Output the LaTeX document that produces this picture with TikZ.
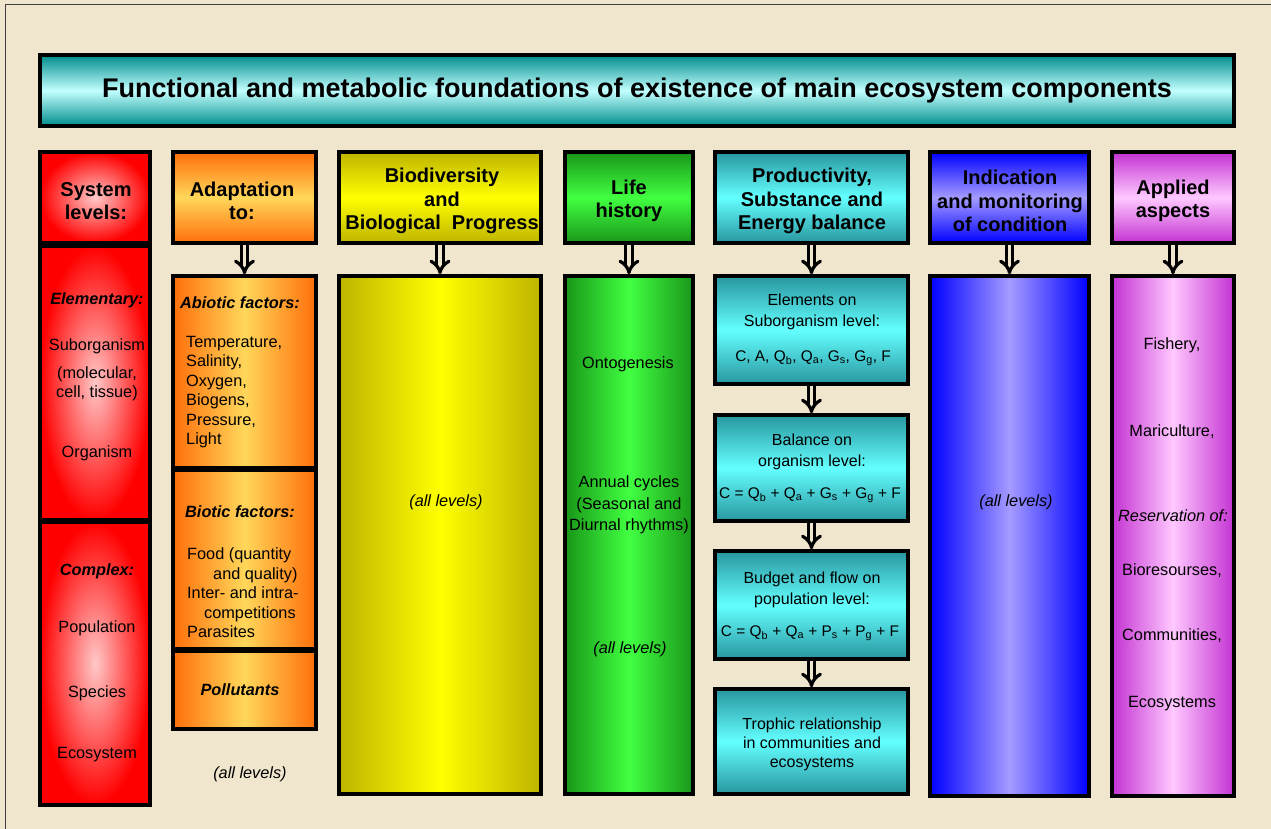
\documentclass[tikz,border=0pt]{standalone}
\usepackage{fontspec}
\setmainfont{Liberation Sans}
\usetikzlibrary{arrows.meta}
\definecolor{bg}{RGB}{240,230,205}
\definecolor{titleE}{RGB}{0,140,140}
\definecolor{titleC}{RGB}{195,255,255}
\definecolor{redE}{RGB}{255,0,0}
\definecolor{redC}{RGB}{255,200,200}
\definecolor{orE}{RGB}{255,110,10}
\definecolor{orC}{RGB}{255,215,90}
\definecolor{yeE}{RGB}{190,180,0}
\definecolor{yeC}{RGB}{255,255,0}
\definecolor{grE}{RGB}{25,150,25}
\definecolor{grC}{RGB}{65,255,65}
\definecolor{cyE}{RGB}{40,150,160}
\definecolor{cyC}{RGB}{100,255,255}
\definecolor{blE}{RGB}{0,0,255}
\definecolor{blC}{RGB}{165,155,255}
\definecolor{maE}{RGB}{195,50,210}
\definecolor{maC}{RGB}{255,200,255}
\tikzset{
  box/.style={draw=black, line width=3.5pt, rectangle, inner sep=0pt},
  vgrad/.style 2 args={top color=#1, bottom color=#1, middle color=#2},
  hgrad/.style 2 args={left color=#1, right color=#1, middle color=#2},
  rgrad/.style 2 args={shading=radial, inner color=#2, outer color=#1},
  hdrtext/.style={font=\fontsize{20}{23.5}\selectfont\bfseries, align=center, inner sep=0pt},
  bodytext/.style={font=\fontsize{16.3}{19.5}\selectfont, align=center, inner sep=0pt},
  bitext/.style={font=\fontsize{16.3}{19.5}\selectfont\bfseries\itshape, inner sep=0pt},
  ittext/.style={font=\fontsize{16.3}{19.5}\selectfont\itshape, inner sep=0pt},
  cytext/.style={font=\fontsize{16}{20.5}\selectfont, align=center, inner sep=0pt},
  eqtext/.style={font=\fontsize{15.4}{20}\selectfont, inner sep=0pt},
  dblarrow/.style={line width=3.2pt, double=bg, double distance=3.5pt, -{Implies}},
}
\begin{document}
\begin{tikzpicture}[x=1pt,y=-1pt]
\useasboundingbox (0,0) rectangle (1271,829);
\fill[bg] (0,0) rectangle (1271,829);
\draw[black!75, line width=1pt] (5,829) -- (5,5) -- (1271,5);

% title
\node[box, vgrad={titleE}{titleC}, minimum width=1194pt, minimum height=71pt] (title) at (637,90.5) {};
\node[font=\fontsize{27}{30}\selectfont\bfseries, inner sep=0pt] (titletext) at (637,91) {Functional and metabolic foundations of existence of main ecosystem components};

% headers
\node[box, rgrad={redE}{redC}, minimum width=110pt, minimum height=91pt] (h1) at (95,197.5) {};
\node[box, vgrad={orE}{orC}, minimum width=143pt, minimum height=91pt] (h2) at (244.5,197.5) {};
\node[box, vgrad={yeE}{yeC}, minimum width=202pt, minimum height=91pt] (h3) at (440,197.5) {};
\node[box, vgrad={grE}{grC}, minimum width=128pt, minimum height=91pt] (h4) at (629,197.5) {};
\node[box, vgrad={cyE}{cyC}, minimum width=193pt, minimum height=91pt] (h5) at (811.5,197.5) {};
\node[box, vgrad={blE}{blC}, minimum width=159pt, minimum height=91pt] (h6) at (1009.5,197.5) {};
\node[box, vgrad={maE}{maC}, minimum width=122pt, minimum height=91pt] (h7) at (1173,197.5) {};

\node[hdrtext] (t1) at (96,201) {System\\levels:};
\node[hdrtext] (t2) at (242,201) {Adaptation\\to:};
\node[hdrtext] (t3) at (442,201) {Biodiversity\\and\\Biological\ \ Progress};
\node[hdrtext] (t4) at (629,201) {Life\\history};
\node[hdrtext] (t5) at (812,201) {Productivity,\\Substance and\\Energy balance};
\node[hdrtext] (t6) at (1010,201) {Indication\\and monitoring\\of condition};
\node[hdrtext] (t7) at (1173,201) {Applied\\aspects};

% red column bodies
\node[box, rgrad={redE}{redC}, minimum width=110pt, minimum height=274pt] (r1) at (95,383) {};
\node[box, rgrad={redE}{redC}, minimum width=110pt, minimum height=283pt] (r2) at (95,663.5) {};
\node[bitext] (r1a) at (97,300) {Elementary:};
\node[bodytext] (r1b) at (97,346) {Suborganism};
\node[bodytext, font=\fontsize{16.3}{19}\selectfont] (r1c) at (97,384) {(molecular,\\cell, tissue)};
\node[bodytext] (r1d) at (97,453) {Organism};
\node[bitext] (r2a) at (97,571) {Complex:};
\node[bodytext] (r2b) at (97,628) {Population};
\node[bodytext] (r2c) at (97,693) {Species};
\node[bodytext] (r2d) at (97,755) {Ecosystem};

% orange column
\node[box, hgrad={orE}{orC}, minimum width=143pt, minimum height=192pt] (o1) at (244.5,372) {};
\node[box, hgrad={orE}{orC}, minimum width=143pt, minimum height=179pt] (o2) at (244.5,559.5) {};
\node[box, hgrad={orE}{orC}, minimum width=143pt, minimum height=78pt] (o3) at (244.5,690) {};
\node[bitext] (o1a) at (240,303) {Abiotic factors:};
\node[bodytext, align=left, anchor=west, font=\fontsize{16.3}{19.4}\selectfont] (o1b) at (186,392) {Temperature,\\Salinity,\\Oxygen,\\Biogens,\\Pressure,\\Light};
\node[bitext] (o2a) at (240,512) {Biotic factors:};
\node[bodytext, align=left, anchor=west] (o2b) at (187,593) {Food (quantity\\\hspace*{26pt}and quality)\\Inter- and intra-\\\hspace*{17pt}competitions\\Parasites};
\node[bitext] (o3a) at (240,690) {Pollutants};
\node[ittext] (o4) at (250,774) {(all levels)};

% yellow column
\node[box, hgrad={yeE}{yeC}, minimum width=202pt, minimum height=518pt] (y1) at (440,535) {};
\node[ittext] (y1a) at (446,502) {(all levels)};

% green column
\node[box, hgrad={grE}{grC}, minimum width=128pt, minimum height=518pt] (g1) at (629,535) {};
\node[bodytext] (g1a) at (628,364) {Ontogenesis};
\node[bodytext, font=\fontsize{16.3}{21.5}\selectfont] (g1b) at (629,505) {Annual cycles\\(Seasonal and\\Diurnal rhythms)};
\node[ittext] (g1c) at (630,649) {(all levels)};

% cyan column
\node[box, vgrad={cyE}{cyC}, minimum width=193pt, minimum height=108pt] (c1) at (811.5,330) {};
\node[box, vgrad={cyE}{cyC}, minimum width=193pt, minimum height=106pt] (c2) at (811.5,468) {};
\node[box, vgrad={cyE}{cyC}, minimum width=193pt, minimum height=108pt] (c3) at (811.5,605) {};
\node[box, vgrad={cyE}{cyC}, minimum width=193pt, minimum height=105pt] (c4) at (811.5,741.5) {};
\node[cytext] (c1a) at (812,312) {Elements on\\Suborganism level:};
\node[eqtext] (c1b) at (813,358) {C, A, Q\textsubscript{b}, Q\textsubscript{a}, G\textsubscript{s}, G\textsubscript{g}, F};
\node[cytext] (c2a) at (812,452) {Balance on\\organism level:};
\node[eqtext] (c2b) at (810,495) {C = Q\textsubscript{b} + Q\textsubscript{a} + G\textsubscript{s} + G\textsubscript{g} + F};
\node[cytext] (c3a) at (812,590) {Budget and flow on\\population level:};
\node[eqtext] (c3b) at (810,633) {C = Q\textsubscript{b} + Q\textsubscript{a} + P\textsubscript{s} + P\textsubscript{g} + F};
\node[cytext, font=\fontsize{16}{19}\selectfont] (c4a) at (812,744) {Trophic relationship\\in communities and\\ecosystems};

% blue column
\node[box, hgrad={blE}{blC}, minimum width=159pt, minimum height=520pt] (b1) at (1009.5,536) {};
\node[ittext] (b1a) at (1016,502) {(all levels)};

% magenta column
\node[box, hgrad={maE}{maC}, minimum width=122pt, minimum height=520pt] (m1) at (1173,536) {};
\node[bodytext] (m1a) at (1172,345) {Fishery,};
\node[bodytext] (m1b) at (1172,432) {Mariculture,};
\node[ittext] (m1c) at (1173,516) {Reservation of:};
\node[bodytext] (m1d) at (1172,571) {Bioresourses,};
\node[bodytext] (m1e) at (1172,636) {Communities,};
\node[bodytext] (m1f) at (1172,704) {Ecosystems};

% arrows
\draw[dblarrow] (h2.south) -- (o1.north);
\draw[dblarrow] (h3.south) -- (y1.north);
\draw[dblarrow] (h4.south) -- (g1.north);
\draw[dblarrow] (h5.south) -- (c1.north);
\draw[dblarrow] (c1.south) -- (c2.north);
\draw[dblarrow] (c2.south) -- (c3.north);
\draw[dblarrow] (c3.south) -- (c4.north);
\draw[dblarrow] (h6.south) -- (b1.north);
\draw[dblarrow] (h7.south) -- (m1.north);
\end{tikzpicture}
\end{document}
